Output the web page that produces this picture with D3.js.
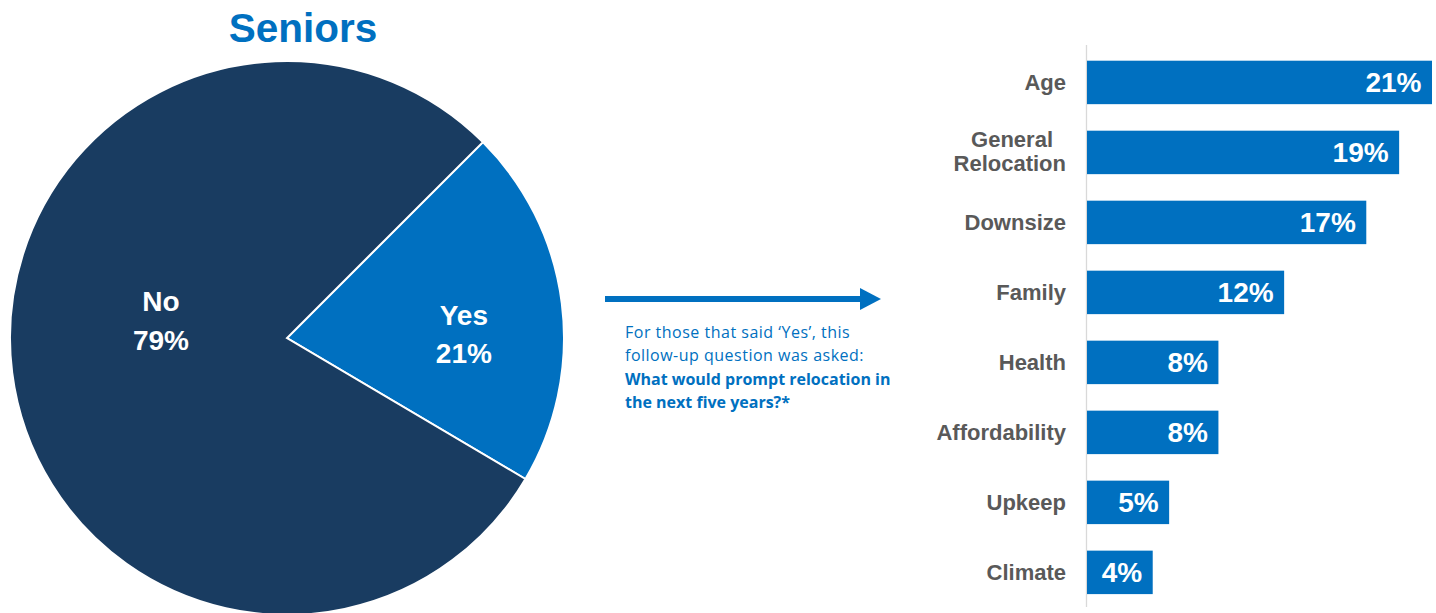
<!DOCTYPE html>
<html>
<head>
<meta charset="utf-8">
<script src="https://cdn.jsdelivr.net/npm/d3@7/dist/d3.min.js"></script>
<style>
  html, body { margin: 0; padding: 0; background: #ffffff; }
  svg { display: block; }
</style>
</head>
<body>
<svg id="chart" width="1436" height="613"></svg>
<script>
// ---- Data ----
const pieCategories = ["Yes", "No"];
const pieValues = [21, 79];

const barCategories = ["Age", "General Relocation", "Downsize", "Family", "Health", "Affordability", "Upkeep", "Climate"];
const barValues = [21, 19, 17, 12, 8, 8, 5, 4];

const titleText = "Seniors";
const noteLines = ["For those that said \u2018Yes\u2019, this", "follow-up question was asked:"];
const noteBoldLines = ["What would prompt relocation in", "the next five years?*"];

// ---- Styles ----
const NAVY = "#193c61";
const BLUE = "#0070c0";
const GRAY = "#595959";
const FONT = "'Liberation Sans', Arial, sans-serif";

const svg = d3.select("#chart");

// ---- Title ----
svg.append("text")
  .attr("x", 303).attr("y", 42)
  .attr("text-anchor", "middle")
  .attr("font-family", FONT).attr("font-weight", "bold").attr("font-size", 40.5)
  .attr("fill", BLUE)
  .text(titleText);

// ---- Pie ----
const cx = 287, cy = 338, R = 277;
const pie = d3.pie().sort(null).startAngle(Math.PI / 4).endAngle(Math.PI / 4 + 2 * Math.PI);
const arcs = pie(pieValues);
const arc = d3.arc().innerRadius(0).outerRadius(R);
const colors = d3.scaleOrdinal().domain(pieCategories).range([BLUE, NAVY]);

const g = svg.append("g").attr("transform", `translate(${cx},${cy})`);
g.selectAll("path.slice").data(arcs).enter().append("path")
  .attr("class", "slice")
  .attr("d", arc)
  .attr("fill", (d, i) => colors(pieCategories[i]))
  .attr("stroke", "#ffffff").attr("stroke-width", 2).attr("stroke-linejoin", "miter");

// label placement (radius fraction and vertical offsets per slice — layout only)
const labelLayout = [
  { k: 0.64, dy1: 9, dy2: 47, dx: 1 },
  { k: 0.455, dy1: -43, dy2: -4, dx: -1 }
];
arcs.forEach((d, i) => {
  const mid = (d.startAngle + d.endAngle) / 2;
  const L = labelLayout[i];
  const r = R * L.k;
  const x = r * Math.sin(mid) + L.dx;
  const y = -r * Math.cos(mid);
  const t = g.append("text")
    .attr("text-anchor", "middle")
    .attr("font-family", FONT).attr("font-weight", "bold").attr("font-size", 28)
    .attr("fill", "#ffffff");
  t.append("tspan").attr("x", x).attr("y", y + L.dy1).text(pieCategories[i]);
  t.append("tspan").attr("x", x).attr("y", y + L.dy2).text(d.data + "%");
});

// ---- Arrow ----
svg.append("line")
  .attr("x1", 605).attr("x2", 862).attr("y1", 299).attr("y2", 299)
  .attr("stroke", BLUE).attr("stroke-width", 6);
svg.append("path")
  .attr("d", "M860,288 L881,299 L860,310 Z")
  .attr("fill", BLUE);

// ---- Note ----
const NOTE_FONT = "'Open Sans', 'Noto Sans', sans-serif";
const note = svg.append("text")
  .attr("font-family", NOTE_FONT).attr("font-size", 16).attr("fill", BLUE);
const allNote = noteLines.map(s => ({ s, b: false })).concat(noteBoldLines.map(s => ({ s, b: true })));
allNote.forEach((ln, i) => {
  note.append("tspan")
    .attr("x", 625).attr("y", 338 + i * 23.3)
    .attr("font-weight", ln.b ? "bold" : "normal")
    .attr("letter-spacing", ln.b ? 0 : 0.5)
    .text(ln.s);
});

// ---- Bars ----
const x = d3.scaleLinear().domain([0, 21]).range([1087, 1432]);
const y = d3.scaleBand().domain(barCategories).range([47.4, 607.4]).paddingInner(0.379).paddingOuter(0.19);

// axis line
svg.append("line")
  .attr("x1", 1086.5).attr("x2", 1086.5).attr("y1", 45).attr("y2", 607)
  .attr("stroke", "#d9d9d9").attr("stroke-width", 1.3);

svg.selectAll("rect.bar").data(barValues).enter().append("rect")
  .attr("class", "bar")
  .attr("x", x(0))
  .attr("y", (d, i) => y(barCategories[i]))
  .attr("width", d => x(d) - x(0))
  .attr("height", y.bandwidth())
  .attr("fill", BLUE);

svg.selectAll("text.val").data(barValues).enter().append("text")
  .attr("class", "val")
  .attr("x", d => x(d) - 10.5)
  .attr("y", (d, i) => y(barCategories[i]) + y.bandwidth() / 2 + 10)
  .attr("text-anchor", "end")
  .attr("font-family", FONT).attr("font-weight", "bold").attr("font-size", 28)
  .attr("fill", "#ffffff")
  .text(d => d + "%");

// category labels
barCategories.forEach((c, i) => {
  const words = c === "General Relocation" ? ["General", "Relocation"] : [c];
  const cyB = y(c) + y.bandwidth() / 2;
  const t = svg.append("text")
    .attr("text-anchor", "end")
    .attr("font-family", FONT).attr("font-weight", "bold").attr("font-size", 22)
    .attr("fill", GRAY);
  if (words.length === 1) {
    t.append("tspan").attr("x", 1066).attr("y", cyB + 7.8).text(words[0]);
  } else {
    t.append("tspan").attr("x", 1053).attr("y", cyB - 5.5).text(words[0]);
    t.append("tspan").attr("x", 1066).attr("y", cyB + 18.5).text(words[1]);
  }
});
</script>
</body>
</html>
